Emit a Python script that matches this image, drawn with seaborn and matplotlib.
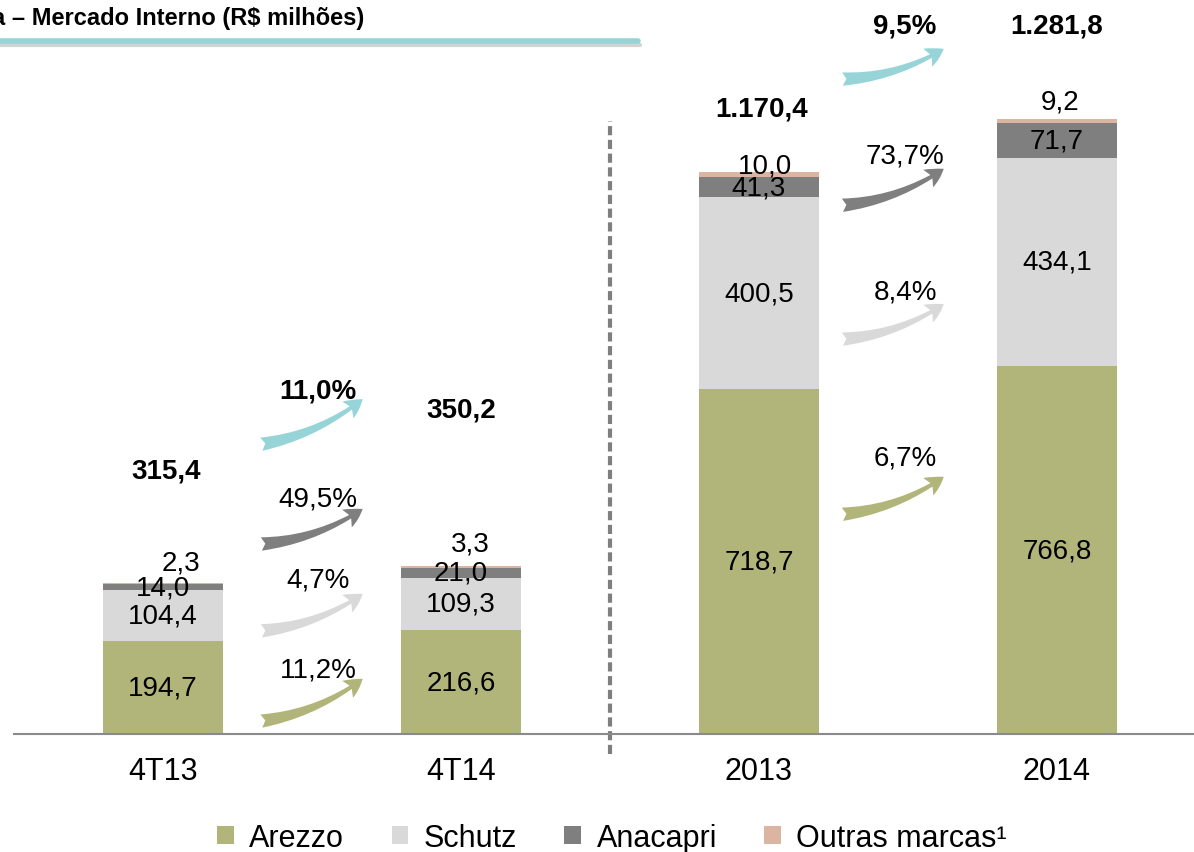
import matplotlib
matplotlib.use("Agg")
import matplotlib.pyplot as plt
import seaborn as sns
import pandas as pd
import numpy as np
from matplotlib.patches import FancyArrowPatch, Patch
from matplotlib.lines import Line2D
from matplotlib import font_manager

# ---------------- data ----------------
categories = ["4T13", "4T14", "2013", "2014"]
arezzo = [194.7, 216.6, 718.7, 766.8]
schutz = [104.4, 109.3, 400.5, 434.1]
anacapri = [14.0, 21.0, 41.3, 71.7]
outras = [2.3, 3.3, 10.0, 9.2]
totals_text = ["315,4", "350,2", "1.170,4", "1.281,8"]
series_names = ["Arezzo", "Schutz", "Anacapri", "Outras marcas¹"]
growth_left = ["11,2%", "4,7%", "49,5%", "11,0%"]    # Arezzo, Schutz, Anacapri, Total (4T14 vs 4T13)
growth_right = ["6,7%", "8,4%", "73,7%", "9,5%"]    # Arezzo, Schutz, Anacapri, Total (2014 vs 2013)
title = "a – Mercado Interno (R$ milhões)"

# ---------------- styles / layout ----------------
c_arezzo = "#b1b57a"
c_schutz = "#d9d9d9"
c_anacapri = "#7f7f7f"
c_outras = "#dcb5a2"
c_total = "#97d4d8"
series_colors = [c_arezzo, c_schutz, c_anacapri, c_outras]

sns.set_theme(style="white")
plt.rcParams["font.family"] = ["Liberation Sans", "DejaVu Sans"]
plt.rcParams["text.color"] = "black"
plt.rcParams["xtick.color"] = "black"
plt.rcParams["xtick.labelcolor"] = "black"

W, H, DPI = 1194, 853, 100
fig = plt.figure(figsize=(W / DPI, H / DPI), dpi=DPI)
ax = fig.add_axes([14 / W, 1 - 735 / H, 1 - 14 / W, 735 / H])

df = pd.DataFrame({"cat": categories, "arezzo": arezzo, "schutz": schutz,
                   "anacapri": anacapri, "outras": outras})
df["c1"] = df["arezzo"]
df["c2"] = df["c1"] + df["schutz"]
df["c3"] = df["c2"] + df["anacapri"]
df["c4"] = df["c3"] + df["outras"]

# stacked bars via overdrawing cumulative sums
for col, color in zip(["c4", "c3", "c2", "c1"], [c_outras, c_anacapri, c_schutz, c_arezzo]):
    sns.barplot(data=df, x="cat", y=col, color=color, width=0.4, saturation=1,
                ax=ax, edgecolor="none", linewidth=0)

ax.set_xlabel("")
ax.set_ylabel("")
ax.set_yticks([])
for s in ["top", "right", "left"]:
    ax.spines[s].set_visible(False)
ax.spines["bottom"].set_color("#8a8a8a")
ax.spines["bottom"].set_linewidth(1.5)
ax.set_xticks(range(len(categories)))
ax.set_xticklabels(categories, fontsize=22)
ax.tick_params(axis="x", which="major", length=0, pad=16)
ax.set_xticks([-0.5, 0.5, 1.5, 2.5], minor=True)
ax.tick_params(axis="x", which="minor", length=8, width=1.3, color="#8a8a8a", direction="out")
ax.set_xlim(-0.5, (W - 14) / 298 - 0.5)
ax.set_ylim(0, 735 / 0.4798)
ax.set_autoscale_on(False)

# segment labels
vfs = 20
fmt = lambda v: f"{v:.1f}".replace(".", ",")
for i in range(len(categories)):
    ax.text(i, arezzo[i] / 2, fmt(arezzo[i]), ha="center", va="center", fontsize=vfs)
    ax.text(i, df["c1"][i] + schutz[i] / 2, fmt(schutz[i]), ha="center", va="center", fontsize=vfs)
    ax.text(i, df["c2"][i] + anacapri[i] / 2, fmt(anacapri[i]), ha="center", va="center", fontsize=vfs)

outras_dx = [0.06, 0.03, 0.02, 0.01]
outras_dy = [42, 46, 14, 37]
for i in range(len(categories)):
    ax.text(i + outras_dx[i], df["c4"][i] + outras_dy[i], fmt(outras[i]),
            ha="center", va="center", fontsize=vfs)

total_dx = [0.01, 0.0, 0.01, 0.0]
total_dy = [233, 327, 133, 194]
for i in range(len(categories)):
    ax.text(i + total_dx[i], df["c4"][i] + total_dy[i], totals_text[i], ha="center", va="center",
            fontsize=20, fontweight="bold")

# growth arrows
arrow_colors = [c_arezzo, c_schutz, c_anacapri, c_total]
left_tail = [27, 215, 396, 604]
left_head = [115, 292, 469, 698]
left_lab = [135, 323, 490, 715]
right_tail = [458, 823, 1102, 1365]
right_head = [536, 896, 1178, 1428]
right_lab = [577, 923, 1205, 1476]


def draw_group(x0, x1, tails, heads, labs, texts, xlab):
    for k in range(4):
        arr = FancyArrowPatch((x0, tails[k]), (x1, heads[k]),
                              connectionstyle="arc3,rad=0.13",
                              arrowstyle="fancy,head_length=0.55,head_width=0.6,tail_width=0.4",
                              mutation_scale=24, color=arrow_colors[k], lw=0,
                              shrinkA=0, shrinkB=0, clip_on=False)
        ax.add_patch(arr)
        ax.text(xlab, labs[k], texts[k], ha="center", va="center", fontsize=20,
                fontweight="bold" if k == 3 else "normal")


draw_group(0.33, 0.67, left_tail, left_head, left_lab, growth_left, 0.52)
draw_group(2.28, 2.62, right_tail, right_head, right_lab, growth_right, 2.49)

# dashed separator
ax.plot([1.5, 1.5], [-42, 1278], color="#7f7f7f", lw=3, ls=(0, (2.2, 1.1)), clip_on=False)

# title + underline
names = {f.name for f in font_manager.fontManager.ttflist}
if "Liberation Sans Narrow" in names:
    fig.text(-8 / W, 1 - 18 / H, title, ha="left", va="center", fontsize=19.5, fontweight="bold",
             family=["Liberation Sans Narrow", "Liberation Sans"])
else:
    fig.text(-8 / W, 1 - 18 / H, title, ha="left", va="center", fontsize=17, fontweight="bold")
fig.add_artist(Line2D([0, 640 / W], [1 - 46 / H, 1 - 46 / H], color="#c8c8c8", lw=3, alpha=0.8))
fig.add_artist(Line2D([0, 638 / W], [1 - 42 / H, 1 - 42 / H], color=c_total, lw=4))

# legend
handles = [Patch(facecolor=c, edgecolor="none") for c in series_colors]
fig.legend(handles, series_names, loc="center", bbox_to_anchor=(612 / W, 1 - 839 / H), ncol=4,
           frameon=False, fontsize=22, handlelength=0.55, handleheight=0.55, handletextpad=0.5,
           columnspacing=1.55, borderaxespad=0)

fig.savefig("out.png", dpi=DPI)
